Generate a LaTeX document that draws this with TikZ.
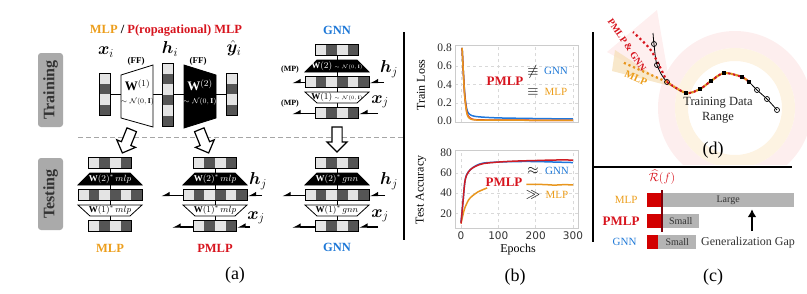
\documentclass[tikz,border=0pt]{standalone}
\usepackage{amsmath,amssymb,bm}
\usepackage{fontspec}
\setmainfont{Liberation Serif}
\newfontfamily\ticksf{DejaVu Sans}
\usetikzlibrary{arrows.meta, positioning, calc, shapes.arrows}

\newcommand{\fsz}[1]{\fontsize{#1}{#1}\selectfont}

% stacked two-layer column: prefix, centre x, top y, upper weight, lower weight
\newcommand{\netcol}[5]{%
    \coordinate (#1up) at (#2,#3);
    \coordinate (#1dn) at (#2,#3+63);
    \draw[spine] (#1up) -- (#1dn);
    \draw[wdark] (#2-20,#3+10) -- (#2+20,#3+10) -- (#2+32,#3+22) -- (#2-32,#3+22) -- cycle;
    \draw[wlight] (#2-32,#3+42) -- (#2+32,#3+42) -- (#2+20,#3+53) -- (#2-20,#3+53) -- cycle;
    \node[hvec=4] (#1top) at (#2,#3) {};
    \node[hvec=6] (#1mid) at (#2,#3+31.5) {};
    \node[hvec=4] (#1bot) at (#2,#3+63) {};
    \node[wtxt, text=white] (#1w2) at (#2,#3+16) {#4};
    \node[wtxt] (#1w1) at (#2,#3+47.5) {#5};
}

\begin{document}
\begin{tikzpicture}[
    x=1pt, y=-1pt,
    font=\fsz{11},
    hvec/.style={
        rectangle, draw, line width=0.8pt, fill=cellL, inner sep=0pt,
        minimum width=#1*10.7pt, minimum height=11pt,
        path picture={\foreach \k in {2,4,...,#1}
            \fill[cellD] ([xshift={(\k-1)*10.7pt}]path picture bounding box.south west)
            rectangle ([xshift={\k*10.7pt}]path picture bounding box.north west);}
    },
    vvec/.style={
        rectangle, draw, line width=0.8pt, fill=cellL, inner sep=0pt,
        minimum width=11pt, minimum height=#1*10.5pt,
        path picture={\foreach \k in {2,4,...,#1}
            \fill[cellD] ([yshift={-(\k-1)*10.5pt}]path picture bounding box.north west)
            rectangle ([yshift={-\k*10.5pt}]path picture bounding box.north east);}
    },
    wdark/.style={draw, line width=0.8pt, fill=black},
    wlight/.style={draw, line width=0.8pt, fill=white},
    wtxt/.style={font=\fsz{9}, inner sep=0pt},
    spine/.style={line width=1pt},
    mparrow/.style={-{Latex[right, length=7pt, width=8pt]}, line width=1.3pt},
    bigarrow/.style={
        single arrow, draw, line width=1.2pt, fill=white,
        minimum height=25pt, inner sep=4.5pt, single arrow head extend=5pt
    },
    tagbox/.style={
        rectangle, rounded corners=3pt, fill=tagfill, text=black!80,
        font=\fsz{16}\bfseries, rotate=90, minimum width=#1, minimum height=25pt
    },
    mathlbl/.style={font=\fsz{17}},
    ttl/.style={font=\fsz{12.5}\bfseries},
    panlbl/.style={font=\fsz{18}},
    sepline/.style={line width=1.2pt},
    sepdash/.style={gray!70, line width=0.8pt, dash pattern=on 5pt off 3pt},
    plotframe/.style={draw=black!20, line width=0.6pt},
    gridl/.style={black!15, dashed, line width=0.4pt},
    xlab/.style={font=\ticksf\fsz{10.5}, text=black!80, inner sep=1pt, below},
    numlab/.style={font=\fsz{11.5}, text=black!85, inner sep=1pt, anchor=east},
    lcurve/.style={line width=1.5pt, draw=#1},
    riskbar/.style={rectangle, fill=riskred, anchor=west, inner sep=0pt, minimum height=14pt},
    gapbar/.style={rectangle, fill=gapgrey, anchor=west, inner sep=0pt, minimum height=14pt,
        font=\fsz{10}, text=black!80},
    dotline/.style={line width=2.2pt, dash pattern=on 2.2pt off 2.8pt, draw=#1},
    omark/.style={circle, draw, line width=0.7pt, inner sep=0pt, minimum size=5pt},
    smark/.style={rectangle, fill=black, inner sep=0pt, minimum size=4pt},
]

\definecolor{mlporange}{RGB}{236,158,28}
\definecolor{pmlpred}{RGB}{215,20,30}
\definecolor{gnnblue}{RGB}{30,120,215}
\definecolor{cellL}{RGB}{228,228,228}
\definecolor{cellD}{RGB}{85,85,85}
\definecolor{tagfill}{RGB}{170,170,170}
\definecolor{riskred}{RGB}{210,0,0}
\definecolor{riskdark}{RGB}{125,0,10}
\definecolor{gapgrey}{RGB}{180,180,180}
\definecolor{blueline}{RGB}{31,119,220}
\definecolor{orangeline}{RGB}{232,150,30}
\definecolor{redline}{RGB}{208,28,36}
\definecolor{ringpink}{RGB}{253,238,238}
\definecolor{ringorange}{RGB}{253,243,226}
\definecolor{conepink}{RGB}{253,232,232}
\definecolor{coneorange}{RGB}{246,224,186}

\useasboundingbox (0,0) rectangle (807,293);

% ============================================================
% (a) MLP / PMLP / GNN
% ============================================================

\node[ttl] (ttlmlp) at (166,31) {\textcolor{mlporange}{MLP} / \textcolor{pmlpred}{P(ropagational) MLP}};
\node[ttl, text=gnnblue] (ttlgnn) at (337,30) {GNN};

\node[tagbox=74pt] (train) at (50.5,90) {Training};
\node[tagbox=72pt] (test) at (50.5,194) {Testing};

\coordinate (sepL) at (78,137);
\coordinate (sepR) at (403,137);
\draw[sepdash] (sepL) -- (sepR);

% training, feed-forward
\coordinate (ffin) at (99,94);
\coordinate (ffout) at (237,94);
\draw[spine] (ffin) -- (ffout);
\draw[wlight] (121,75) -- (153,65) -- (153,127) -- (121,118) -- cycle;
\draw[wdark] (184,65) -- (216,75) -- (216,118) -- (184,128) -- cycle;
\node[vvec=4] (xi) at (104.5,94) {};
\node[vvec=6] (hi) at (167.5,94.5) {};
\node[vvec=4] (yi) at (231.5,94) {};
\node[font=\fsz{13}] (ffw1) at (137.5,85) {$\mathbf{W}^{(1)}$};
\node[font=\fsz{7.5}] (ffn1) at (137.5,102) {$\sim\mathcal{N}(0,\mathbf{I})$};
\node[font=\fsz{13}, text=white] (ffw2) at (200,85) {$\mathbf{W}^{(2)}$};
\node[font=\fsz{7.5}, text=white] (ffn2) at (200,102) {$\sim\mathcal{N}(0,\mathbf{I})$};
\node[mathlbl] (lxi) at (106,52) {$\bm{x}_i$};
\node[mathlbl] (lhi) at (170,49) {$\bm{h}_i$};
\node[mathlbl] (lyi) at (234,48) {$\hat{\bm{y}}_i$};
\node[font=\fsz{9}\bfseries] (ff1) at (136,61) {(FF)};
\node[font=\fsz{9}\bfseries] (ff2) at (198,61) {(FF)};

% training, message passing
\netcol{gn}{337}{50}{$\mathbf{W}(2)$ {\fsz{5}$\sim\mathcal{N}(0,\mathbf{I})$}}{$\mathbf{W}(1)$ {\fsz{5}$\sim\mathcal{N}(0,\mathbf{I})$}}
\coordinate (gnhin) at (384,82.5);
\coordinate (gnhout) at (292,82.5);
\coordinate (gnxin) at (378,113.5);
\coordinate (gnxout) at (292,113.5);
\draw[mparrow] (gnhin) -- (gnhin -| gnmid.east);
\draw[mparrow] (gnhout -| gnmid.west) -- (gnhout);
\draw[mparrow] (gnxin) -- (gnxin -| gnbot.east);
\draw[mparrow] (gnxout -| gnbot.west) -- (gnxout);
\node[font=\fsz{8}\bfseries] (mp1) at (290,70) {(MP)};
\node[font=\fsz{8}\bfseries] (mp2) at (290,104) {(MP)};
\node[mathlbl] (lhj) at (389,69) {$\bm{h}_j$};
\node[mathlbl] (lxj) at (380,102) {$\bm{x}_j$};

% training -> testing
\node[bigarrow, rotate=-112] (ffdown) at (128,139) {};
\node[bigarrow, rotate=-68] (pmdown) at (203,139) {};
\node[bigarrow, rotate=-90] (gndown) at (337,137) {};

% testing
\netcol{ml}{110}{163}{$\mathbf{W}(2)^{*}\,mlp$}{$\mathbf{W}(1)^{*}\,mlp$}
\netcol{pm}{215}{163}{$\mathbf{W}(2)^{*}\,mlp$}{$\mathbf{W}(1)^{*}\,mlp$}
\netcol{gt}{337}{163}{$\mathbf{W}(2)^{*}\,gnn$}{$\mathbf{W}(1)^{*}\,gnn$}

\coordinate (pmhin) at (262,195.5);
\coordinate (pmhout) at (161,195.5);
\coordinate (pmxin) at (250,227);
\coordinate (pmxout) at (172,227);
\draw[mparrow] (pmhin) -- (pmhin -| pmmid.east);
\draw[mparrow] (pmhout -| pmmid.west) -- (pmhout);
\draw[mparrow] (pmxin) -- (pmxin -| pmbot.east);
\draw[mparrow] (pmxout -| pmbot.west) -- (pmxout);
\node[mathlbl] (pmhj) at (258,181) {$\bm{h}_j$};
\node[mathlbl] (pmxj) at (256,218) {$\bm{x}_j$};

\coordinate (gthin) at (385,195.5);
\coordinate (gthout) at (282,195.5);
\coordinate (gtxin) at (378,227);
\coordinate (gtxout) at (292,227);
\draw[mparrow] (gthin) -- (gthin -| gtmid.east);
\draw[mparrow] (gthout -| gtmid.west) -- (gthout);
\draw[mparrow] (gtxin) -- (gtxin -| gtbot.east);
\draw[mparrow] (gtxout -| gtbot.west) -- (gtxout);
\node[mathlbl] (gthj) at (389,181) {$\bm{h}_j$};
\node[mathlbl] (gtxj) at (380,216) {$\bm{x}_j$};

\node[ttl, text=mlporange] (nmlp) at (110,248) {MLP};
\node[ttl, text=pmlpred] (npmlp) at (215,248) {PMLP};
\node[ttl, text=gnnblue] (ngnn) at (337,247) {GNN};
\node[panlbl] (pa) at (235,275) {(a)};

% ============================================================
% (b) training curves
% ============================================================

\coordinate (abT) at (404,32);
\coordinate (abB) at (404,240);
\draw[sepline] (abT) -- (abB);

\begin{scope}[shift={(461,121)}, x=0.3733pt, y=91.25pt]
    \foreach \e in {0,100,200,300}
        \draw[gridl] (\e,-0.011) -- (\e,0.833);
    \foreach \val in {0.2,0.4,0.6}
        \draw[gridl] (-16,\val) -- (313,\val);
    \draw[plotframe] (-16,-0.011) rectangle (313,0.833);
    \draw[lcurve=blueline] plot[smooth] coordinates {(3,0.8) (6,0.56) (10,0.3) (15,0.14)
        (20,0.085) (30,0.058) (50,0.045) (100,0.034) (200,0.027) (300,0.022)};
    \draw[lcurve=redline] plot[smooth] coordinates {(3,0.8) (6,0.55) (10,0.28) (15,0.11)
        (20,0.05) (30,0.02) (50,0.012) (100,0.01) (200,0.008) (300,0.007)};
    \draw[lcurve=orangeline] plot[smooth] coordinates {(3,0.8) (6,0.55) (10,0.27) (15,0.1)
        (20,0.04) (30,0.016) (50,0.01) (100,0.009) (200,0.008) (300,0.007)};
\end{scope}
\node[font=\fsz{12}, rotate=90] (ylossl) at (421,85) {Train Loss};
\node[font=\fsz{13}\bfseries, text=pmlpred] (bpm1) at (505,81) {PMLP};
\node[font=\fsz{14}] (neq) at (533,72) {$\not\equiv$};
\node[font=\fsz{11}, text=gnnblue] (bg1) at (556,71) {GNN};
\node[font=\fsz{14}] (eqv) at (533,92) {$\equiv$};
\node[font=\fsz{11}, text=mlporange] (bm1) at (556,92) {MLP};

\begin{scope}[shift={(461,233.6)}, x=0.3733pt, y=1.015pt]
    \foreach \e in {0,100,200,300}
        \draw[gridl] (\e,5.5) -- (\e,82.4);
    \foreach \val in {20,40,60}
        \draw[gridl] (-16,\val) -- (313,\val);
    \draw[plotframe] (-16,5.5) rectangle (313,82.4);
    \draw[lcurve=orangeline] plot[smooth] coordinates {(0,10) (5,18) (10,25) (20,33)
        (30,37) (45,41) (60,43.5) (70,45)};
    \draw[lcurve=orangeline] plot[smooth] coordinates {(175,48.5) (200,48.5) (225,48.3)
        (250,47.8) (275,48.2) (300,48)};
    \draw[lcurve=blueline] plot[smooth] coordinates {(0,11) (5,30) (10,50) (15,58) (25,63)
        (40,67) (60,69.5) (100,70.5) (150,71) (200,71) (250,70.5) (300,70)};
    \draw[lcurve=redline] plot[smooth] coordinates {(0,10) (5,30) (10,50) (15,57.5) (25,63)
        (40,66.5) (60,69) (100,70.5) (150,71.5) (200,72) (250,72.5) (300,72.5)};
\end{scope}
\node[xlab] (ep0) at (461,231) {0};
\node[xlab] (ep100) at (498.3,231) {100};
\node[xlab] (ep200) at (535.7,231) {200};
\node[xlab] (ep300) at (573,231) {300};
\node[font=\fsz{12}, rotate=90] (yaccl) at (421,190) {Test Accuracy};
\node[font=\fsz{12}] (xepl) at (518,250) {Epochs};
\node[font=\fsz{13}\bfseries, text=pmlpred] (bpm2) at (504,182) {PMLP};
\node[font=\fsz{14}] (apx) at (533,171) {$\approx$};
\node[font=\fsz{11}, text=gnnblue] (bg2) at (557,171) {GNN};
\node[font=\fsz{14}] (ggt) at (533,195) {$\gg$};
\node[font=\fsz{11}, text=mlporange] (bm2) at (557,195) {MLP};
\node[panlbl] (pb) at (515,277) {(b)};

% ============================================================
% (d) extrapolation
% ============================================================

\coordinate (bcT) at (593,32);
\coordinate (bcB) at (593,242);
\draw[sepline] (bcT) -- (bcB);
\coordinate (cdL) at (593,167);
\coordinate (cdR) at (792,167);
\draw[sepline] (cdL) -- (cdR);

\begin{scope}
    \clip (596,0) rectangle (807,164);
    \fill[ringpink, even odd rule] (735,108) circle[radius=77pt] (735,108) circle[radius=60pt];
    \fill[ringorange, even odd rule] (735,108) circle[radius=60pt] (735,108) circle[radius=47pt];
\end{scope}
\fill[conepink, opacity=0.7] (670,86) -- (607,52) -- (657,10) -- cycle;
\fill[coneorange, opacity=0.75] (670,86) -- (615,50) -- (612,71) -- cycle;

\draw[line width=0.8pt] plot[smooth] coordinates {(653,33) (654,44) (657,65) (667,82)
    (686,93) (700,89) (711,81) (724,73) (742,77) (749,82) (757,90) (767,99) (777,110)};
\coordinate (extra) at (667,82);
\coordinate (mltip) at (622,62);
\draw[dotline=pmlpred] plot[smooth] coordinates {(667,82) (660,67) (650,49) (633,32)};
\draw[dotline=orangeline] (extra) -- (mltip);
\draw[dotline=pmlpred] plot[smooth] coordinates {(667,82) (686,93) (700,89) (711,81)
    (724,73) (742,77) (749,82)};
\draw[dotline=orangeline, dash phase=2.5pt] plot[smooth] coordinates {(667,82) (686,93)
    (700,89) (711,81) (724,73) (742,77) (749,82)};
\foreach \p/\q [count=\i] in {654/44, 657/65, 667/82, 757/90, 767/99, 777/110}
    \node[omark] (oc\i) at (\p,\q) {};
\foreach \p/\q [count=\i] in {686/93, 700/89, 711/81, 724/73, 742/77, 749/82}
    \node[smark] (sq\i) at (\p,\q) {};

\node[font=\fsz{9.5}\bfseries, text=pmlpred, rotate=-56] (lpmgnn) at (627,45) {PMLP \& GNN};
\node[font=\fsz{10.5}\bfseries, text=mlporange, rotate=-24] (lmlpd) at (636,78) {MLP};
\node[font=\fsz{12.5}, align=center, text=black!85] (range) at (718,110) {Training Data\\[2pt]Range};
\node[panlbl] (pd) at (713,150) {(d)};

% ============================================================
% (c) generalization gap
% ============================================================

\node[gapbar, minimum width=132pt] (mlpgap) at (662,200) {Large};
\node[riskbar, minimum width=15pt] (mlprisk) at (647,200) {};
\node[gapbar, minimum width=37pt] (pmgap) at (662,221) {Small};
\node[riskbar, minimum width=15pt] (pmrisk) at (647,221) {};
\node[gapbar, minimum width=38pt] (gngap) at (658,242) {Small};
\node[riskbar, minimum width=11pt] (gnrisk) at (647,242) {};

\node[anchor=east, font=\fsz{11}, text=mlporange] (cmlp) at (641,200) {MLP};
\node[anchor=east, font=\fsz{13}\bfseries, text=pmlpred] (cpmlp) at (643,221) {PMLP};
\node[anchor=east, font=\fsz{11}, text=gnnblue] (cgnn) at (640,242) {GNN};

\coordinate (riskT) at (662,190);
\coordinate (riskB) at (662,232);
\draw[riskdark, line width=2.5pt] (riskT) -- (riskB);
\node[text=pmlpred, font=\fsz{12}] (rhat) at (662,177) {$\widehat{\mathcal{R}}(f)$};

\coordinate (gapfoot) at (752,231);
\draw[-{Latex[length=8pt, width=9pt]}, line width=2.5pt, shorten >=2pt] (gapfoot) -- (gapfoot |- mlpgap.south);
\node[font=\fsz{12}, text=black!80] (gaptxt) at (748,243) {Generalization Gap};
\node[panlbl] (pc) at (713,277) {(c)};

% y tick numbers of (b), drawn last
\node[numlab] (tka) at (453,121) {0.0};
\node[numlab] (tkb) at (453,102.75) {0.2};
\node[numlab] (tkc) at (453,84.5) {0.4};
\node[numlab] (tkd) at (453,66.25) {0.6};
\node[numlab] (tke) at (453,48) {0.8};
\node[numlab] (tkf) at (453,213.3) {20};
\node[numlab] (tkg) at (453,193) {40};
\node[numlab] (tkh) at (453,172.7) {60};
\node[numlab] (tki) at (453,152.4) {80};

\end{tikzpicture}
\end{document}
